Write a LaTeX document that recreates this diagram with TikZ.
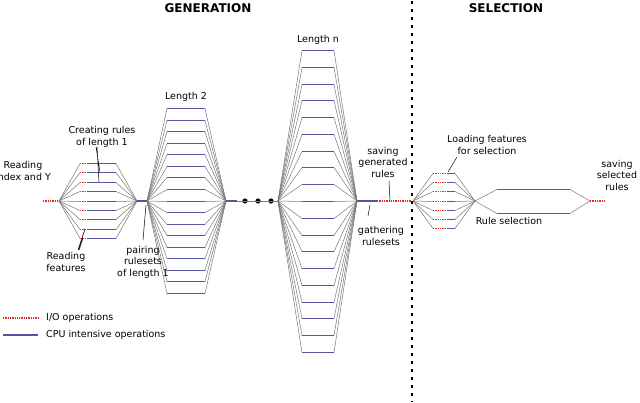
\documentclass[tikz,border=0pt]{standalone}
\usepackage{fontspec}
\setmainfont{DejaVu Sans}
\definecolor{ioc}{RGB}{235,40,40}
\definecolor{cpuc}{RGB}{85,85,160}
\definecolor{brc}{RGB}{120,120,120}
\begin{document}
\begin{tikzpicture}[x=1pt,y=-1pt,
  io/.style={draw=ioc,line width=1.3pt,dash pattern=on 1.3pt off 1pt},
  cpu/.style={draw=cpuc,line width=1.2pt},
  br/.style={draw=brc,line width=0.5pt},
  ptr/.style={draw=black,line width=0.5pt},
  lbl/.style={font=\fontsize{9.5}{11.5}\selectfont,align=center,inner sep=1pt},
  hd/.style={font=\fontsize{12}{13}\selectfont\bfseries}]
\fill[white] (0,0) rectangle (640,402);
\useasboundingbox (0,0) rectangle (640,402);
% headings
\node[hd] (gen) at (208,8) {GENERATION};
\node[hd] (sel) at (506,8) {SELECTION};
\draw[line width=2.5pt,dash pattern=on 2.5pt off 5.5pt] (412,1) -- (412,402);
% length 1
\draw[io] (43,201) -- (58,201);
\foreach \i in {0,...,8}{
  \pgfmathsetmacro\yy{round(163+\i*9.375)+0.5}
  \draw[br] (59,201) -- (80,\yy) (116,\yy) -- (137,201);
  \draw[io] (80,\yy) -- (87,\yy);
  \draw[cpu] (87,\yy) -- (116,\yy);}
\draw[cpu] (137,201) -- (147,201);
% length 2
\foreach \i in {0,...,16}{
  \pgfmathsetmacro\yy{round(108+\i*11.5625)+0.5}
  \draw[br] (147,201) -- (167,\yy) (205,\yy) -- (226,201);
  \draw[cpu] (167,\yy) -- (205,\yy);}
\draw[cpu] (226,201) -- (237,201);
\foreach \x in {245,258,271} \fill (\x,201) circle (2.6);
\draw[br] (237,201) -- (278,201);
% length n
\foreach \i in {0,...,18}{
  \pgfmathsetmacro\yy{round(50+\i*16.78)+0.5}
  \draw[br] (278,201) -- (302,\yy) (334,\yy) -- (357,201);
  \draw[cpu] (302,\yy) -- (334,\yy);}
\draw[cpu] (357,201) -- (377,201);
\draw[io] (377,201) -- (411,201);
% selection
\foreach \i in {0,...,6}{
  \pgfmathsetmacro\yy{round(173+\i*9.2)+0.5}
  \draw[br] (413,201) -- (433,\yy) (455,\yy) -- (475,201);
  \draw[io] (433,\yy) -- (447,\yy);
  \draw[cpu] (447,\yy) -- (455,\yy);}
\draw[br] (475,201) -- (497,189.5) (570,189.5) -- (590,201)
          (475,201) -- (497,213.5) (570,213.5) -- (590,201);
\draw[cpu] (497,189.5) -- (570,189.5) (497,213.5) -- (570,213.5);
\draw[io] (590,201) -- (606,201);
% labels
\node[lbl] (l2) at (186,97) {Length 2};
\node[lbl] (ln) at (318,40) {Length n};
\node[lbl] (ri) at (23,171) {Reading\\index and Y};
\node[lbl] (cr) at (102,137) {Creating rules\\of length 1};
\node[lbl] (rf) at (66,262) {Reading\\features};
\node[lbl] (pr) at (143,262) {pairing\\rulesets\\of length 1};
\node[lbl] (sg) at (383,162) {saving\\generated\\rules};
\node[lbl] (gr) at (381,236) {gathering\\rulesets};
\node[lbl] (lf) at (487,145) {Loading features\\for selection};
\node[lbl] (rs) at (509,221) {Rule selection};
\node[lbl] (ss) at (617,175) {saving\\selected\\rules};
\draw[ptr] (96,147) -- (100,172) (97,147) -- (99,182);
\draw[ptr] (78,250) -- (85,229) (79,250) -- (83,238);
\draw[ptr] (143,240) -- (146,205);
\draw[ptr] (389,181) -- (390,201);
\draw[ptr] (370,205) -- (368,216);
\draw[ptr] (457,157) -- (448,172);
% legend
\draw[io] (3,318) -- (38,318);
\node[lbl,anchor=west] (lio) at (45,318) {I/O operations};
\draw[cpu] (3,335) -- (38,335);
\node[lbl,anchor=west] (lcpu) at (45,335) {CPU intensive operations};
\end{tikzpicture}
\end{document}
